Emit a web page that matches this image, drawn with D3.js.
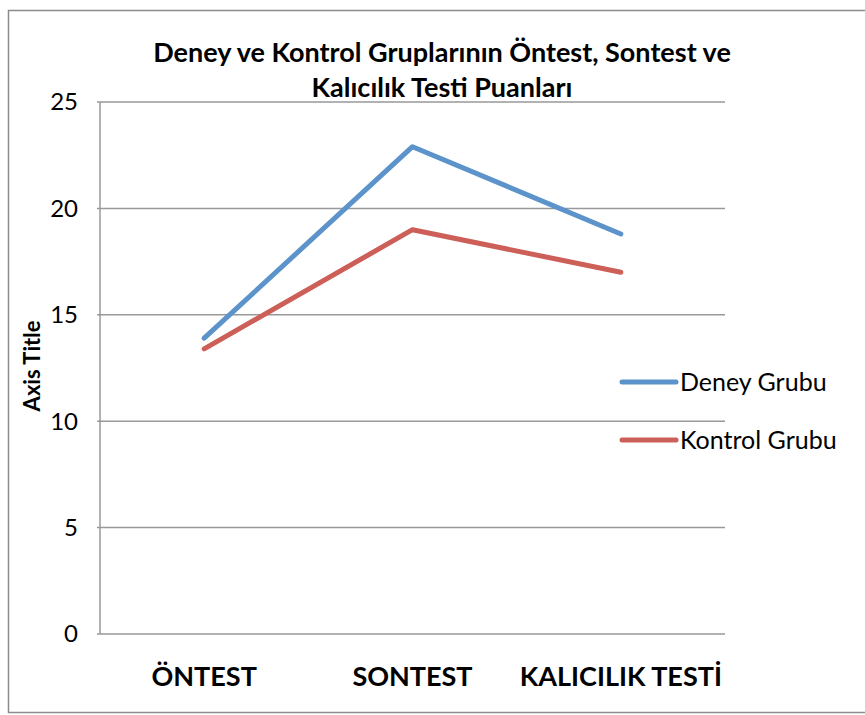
<!DOCTYPE html>
<html>
<head>
<meta charset="utf-8">
<script src="https://cdn.jsdelivr.net/npm/d3@7"></script>
<style>
  body { margin: 0; background: #fff; }
  text { font-family: Lato, "Open Sans", sans-serif; }
</style>
</head>
<body>
<div id="vis"></div>
<script>
let categories = ["ÖNTEST", "SONTEST", "KALICILIK TESTİ"]
let deney = [13.9, 22.9, 18.8]
let kontrol = [13.4, 19.0, 17.0]
let seriesNames = ["Deney Grubu", "Kontrol Grubu"]
let seriesColors = ["#5B93CA", "#CC5F58"]
let yTicks = [0, 5, 10, 15, 20, 25]

let svg = d3.select("#vis").append("svg")
    .attr("width", 865)
    .attr("height", 715)

// outer chart border
svg.append("rect")
    .attr("x", 8.5).attr("y", 10.5)
    .attr("width", 900).attr("height", 702)
    .attr("fill", "none")
    .attr("stroke", "#8c8c8c")
    .attr("stroke-width", 1.5)

let x = d3.scaleBand().domain(categories).range([100, 725])
let y = d3.scaleLinear().domain([0, 25]).range([634, 102])

// gridlines
svg.append("g")
    .selectAll("line")
    .data(yTicks)
    .join("line")
    .attr("x1", 97).attr("x2", 725)
    .attr("y1", d => y(d)).attr("y2", d => y(d))
    .attr("stroke", "#999")
    .attr("stroke-width", 1.5)

svg.append("line")
    .attr("x1", 100).attr("x2", 100)
    .attr("y1", y(25)).attr("y2", y(0))
    .attr("stroke", "#999")
    .attr("stroke-width", 1.5)

svg.append("g")
    .selectAll("text")
    .data(yTicks)
    .join("text")
    .attr("x", 78).attr("y", d => y(d))
    .attr("dy", "0.35em")
    .attr("text-anchor", "end")
    .attr("font-size", 24)
    .attr("fill", "#000")
    .text(d => d)

svg.append("g")
    .selectAll("text")
    .data(categories)
    .join("text")
    .attr("x", d => x(d) + x.bandwidth() / 2)
    .attr("y", 686)
    .attr("text-anchor", "middle")
    .attr("font-size", 27)
    .attr("font-weight", "bold")
    .text(d => d)

svg.append("text")
    .attr("transform", "translate(40,366) rotate(-90)")
    .attr("text-anchor", "middle")
    .attr("font-size", 22)
    .attr("font-weight", "bold")
    .text("Axis Title")

let title = svg.append("text")
    .attr("text-anchor", "middle")
    .attr("font-size", 27)
    .attr("font-weight", "bold")
title.append("tspan").attr("x", 442).attr("y", 62)
    .text("Deney ve Kontrol Gruplarının Öntest, Sontest ve")
title.append("tspan").attr("x", 442).attr("y", 97)
    .text("Kalıcılık Testi Puanları")

let line = d3.line()
    .x((d, i) => x(categories[i]) + x.bandwidth() / 2)
    .y(d => y(d))

svg.append("g")
    .selectAll("path")
    .data([deney, kontrol])
    .join("path")
    .attr("d", d => line(d))
    .attr("fill", "none")
    .attr("stroke", (d, i) => seriesColors[i])
    .attr("stroke-width", 5)
    .attr("stroke-linecap", "round")
    .attr("stroke-linejoin", "round")

let legend = svg.append("g")
    .selectAll("g")
    .data(seriesNames)
    .join("g")
    .attr("transform", (d, i) => `translate(622,${382 + i * 58})`)

legend.append("line")
    .attr("x1", 0).attr("x2", 54)
    .attr("stroke", (d, i) => seriesColors[i])
    .attr("stroke-width", 5)
    .attr("stroke-linecap", "round")

legend.append("text")
    .attr("x", 58).attr("dy", "0.35em")
    .attr("font-size", 25)
    .text(d => d)
</script>
</body>
</html>
